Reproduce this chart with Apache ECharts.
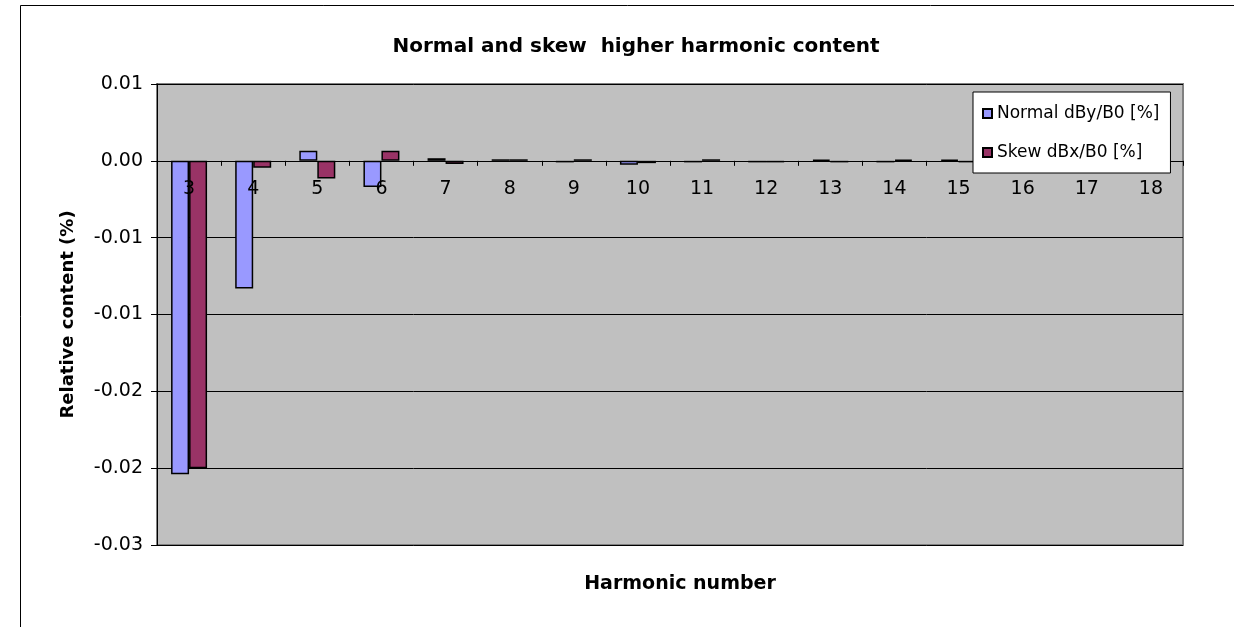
<!DOCTYPE html>
<html>
<head>
<meta charset="utf-8">
<script src="https://cdn.jsdelivr.net/npm/echarts@6/dist/echarts.min.js"></script>
<style>
html,body{margin:0;padding:0;background:#fff;}
#chart{width:1234px;height:627px;}
</style>
</head>
<body>
<div id="chart"></div>
<script>
const titleText = 'Normal and skew  higher harmonic content';
const xAxisName = 'Harmonic number';
const yAxisName = 'Relative content (%)';
const categories = ['3','4','5','6','7','8','9','10','11','12','13','14','15','16','17','18'];
const normalName = 'Normal dBy/B0 [%]';
const skewName = 'Skew dBx/B0 [%]';
const normalValues = [-0.0204, -0.0083, 0.00065, -0.0017, 0.00017, 0.0001, -0.0001, -0.00025, -0.0001, -0.0001, 0.00008, -0.0001, 0.00008, 0, 0, 0];
const skewValues = [-0.0200, -0.00045, -0.00115, 0.00065, -0.0002, 0.0001, 0.0001, -0.00015, 0.0001, -0.0001, -0.0001, 0.00008, -0.0001, 0, 0, 0];
const yMin = -0.025, yMax = 0.005, yStep = 0.005;
const yTickLabels = ['-0.03','-0.02','-0.02','-0.01','-0.01','0.00','0.01'];

const FONT = 'DejaVu Sans';
const chart = echarts.init(document.getElementById('chart'));
chart.setOption({
  animation: false,
  backgroundColor: '#ffffff',
  graphic: [
    {type: 'polyline', shape: {points: [[20.5, 627], [20.5, 5.5], [1234, 5.5]]}, style: {stroke: '#000', lineWidth: 1, fill: null}, z: 0},
    {type: 'text', x: 636, y: 47, style: {text: titleText, font: 'bold 20px "DejaVu Sans"', fill: '#000', align: 'center', verticalAlign: 'middle'}},
    {type: 'text', x: 680, y: 584, style: {text: xAxisName, font: 'bold 19px "DejaVu Sans"', fill: '#000', align: 'center', verticalAlign: 'middle'}}
  ],
  grid: {left: 157, right: 51, top: 84, bottom: 82, show: true, backgroundColor: '#C0C0C0', borderColor: '#808080', borderWidth: 2},
  legend: {
    orient: 'vertical', left: 973, top: 92, z: 10,
    padding: [13, 11, 12, 9], itemGap: 22, itemWidth: 9, itemHeight: 9, icon: 'rect',
    backgroundColor: '#ffffff', borderColor: '#000', borderWidth: 1,
    textStyle: {fontFamily: FONT, fontSize: 17, color: '#000'},
    data: [normalName, skewName]
  },
  xAxis: {
    type: 'category', data: categories, z: 5,
    axisLine: {onZero: true, lineStyle: {color: '#000', width: 1}},
    axisTick: {show: true, length: 5, lineStyle: {color: '#000'}},
    axisLabel: {margin: -365, fontFamily: FONT, fontSize: 19, color: '#000'},
    splitLine: {show: false}
  },
  yAxis: {
    type: 'value', min: yMin, max: yMax, interval: yStep,
    name: yAxisName, nameLocation: 'middle', nameGap: 80,
    nameTextStyle: {fontFamily: FONT, fontSize: 18, fontWeight: 'bold', color: '#000'},
    axisLine: {show: true, lineStyle: {color: '#000', width: 1}},
    axisTick: {show: true, length: 6, lineStyle: {color: '#000'}},
    axisLabel: {margin: 14, fontFamily: FONT, fontSize: 19, color: '#000',
      formatter: function (v) { return yTickLabels[Math.round((v - yMin) / yStep)]; }},
    splitLine: {show: true, lineStyle: {color: '#000', width: 1}}
  },
  series: [
    {name: normalName, type: 'bar', data: normalValues, barWidth: 18, barGap: '0%',
     itemStyle: {color: '#9999FF', borderColor: '#000', borderWidth: 1.5}},
    {name: skewName, type: 'bar', data: skewValues, barWidth: 18, barGap: '0%',
     itemStyle: {color: '#993366', borderColor: '#000', borderWidth: 1.5}}
  ]
});
</script>
</body>
</html>
